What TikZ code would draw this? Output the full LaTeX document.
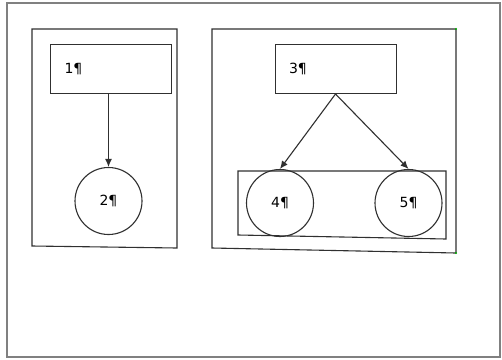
\documentclass[tikz,border=0pt]{standalone}
\usepackage{fontspec}
\setmainfont{DejaVu Sans}
\usetikzlibrary{arrows.meta}
\definecolor{linegray}{HTML}{303030}
\definecolor{framegray}{HTML}{808080}
\tikzset{
  pbox/.style={draw=linegray, line width=1pt, rectangle, minimum width=121pt, minimum height=49pt,
    inner xsep=14pt, text width=93pt, align=left, font=\fontsize{14}{16}\selectfont},
  pcirc/.style={draw=linegray, line width=1.1pt, circle, minimum size=67pt, inner sep=0pt,
    font=\fontsize{14}{16}\selectfont},
  parrow/.style={draw=linegray, line width=1.1pt, -{Latex[length=8pt,width=7pt]}}
}
\begin{document}
\begin{tikzpicture}[x=1pt,y=-1pt]
			%%%%% START %%%%%
			\useasboundingbox (0,0) rectangle (502,359);
			\fill[white] (0,0) rectangle (502,359);
			\draw[framegray, line width=1.3pt] (7,3) rectangle (500,357);
			
			% left part
			\draw[linegray, line width=1.1pt] (32,29) -- (177,29) -- (177,248) -- (32,246) -- cycle;
			\node[pbox] (n1) at (111,69) {1¶};
			\node[pcirc] (n2) at (108.5,201) {2¶};
			\draw[parrow] (n1.south -| n2.north) -- (n2.north);
			
			% right part
			\draw[linegray, line width=1.1pt] (212,29) -- (456,29) -- (456,253) -- (212,248) -- cycle;
			\fill[green!70!black] (456,29) circle (1.2);
			\fill[green!70!black] (456,253) circle (1.2);
			\node[pbox] (n3) at (335.5,69) {3¶};
			\draw[linegray, line width=1.1pt] (238,171) -- (446,171) -- (446,239) -- (238,235) -- cycle;
			\node[pcirc] (n4) at (280,203) {4¶};
			\node[pcirc] (n5) at (408.5,203) {5¶};
			\draw[parrow] (n3.south) -- (n4.north);
			\draw[parrow] (n3.south) -- (n5.north);
			%%%%% END %%%%%
\end{tikzpicture}
\end{document}
